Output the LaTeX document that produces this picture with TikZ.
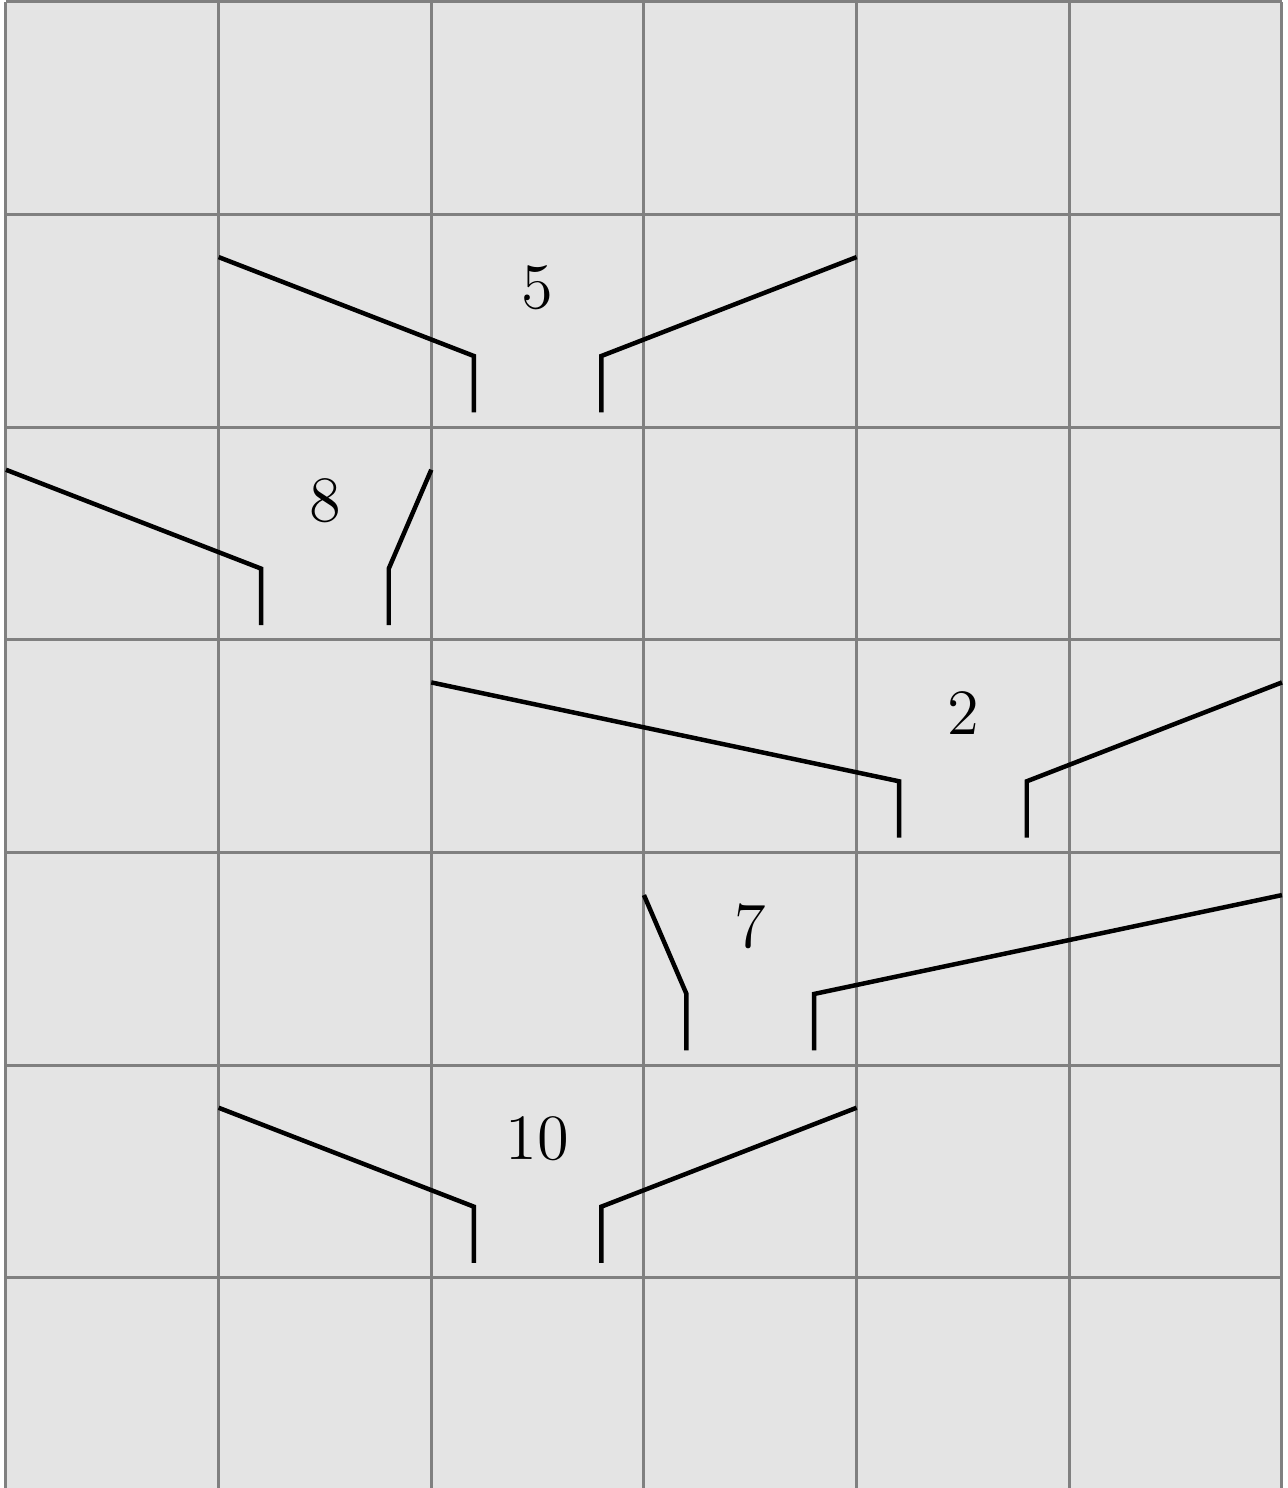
\documentclass[tikz,border=0pt]{standalone}
\usepackage{tikz}
\definecolor{cellfill}{HTML}{E4E4E4}

\begin{document}
\begin{tikzpicture}[
    cell/.style={draw=gray, line width=0.4pt},
    arm/.style={line width=0.6pt, line cap=butt, line join=miter},
    key/.style={font=\Large, scale=0.6, inner sep=0pt}
  ]
    \useasboundingbox (-0.028,0.012) rectangle (6.028,7.009);
    \fill[cellfill] (0,0) rectangle (6,7);
    \draw[cell] (0,0) grid (6,7);
    % column/row of the key, then where the two arms end
    \foreach \c/\r/\v/\lx/\rx in {2/1/5/1/4, 1/2/8/0/2, 4/3/2/2/6, 3/4/7/3/6, 2/5/10/1/4} {
      \node[key] (n\v) at ({\c+0.5},{6.655-\r}) {\v};
      \coordinate (l\v) at ({\c+0.2},{6.07-\r});
      \coordinate (r\v) at ({\c+0.8},{6.07-\r});
      \draw[arm] (\lx,{6.8-\r}) -- ({\c+0.2},{6.335-\r}) -- (l\v);
      \draw[arm] (r\v) -- ({\c+0.8},{6.335-\r}) -- (\rx,{6.8-\r});
    }
  \end{tikzpicture}
\end{document}
